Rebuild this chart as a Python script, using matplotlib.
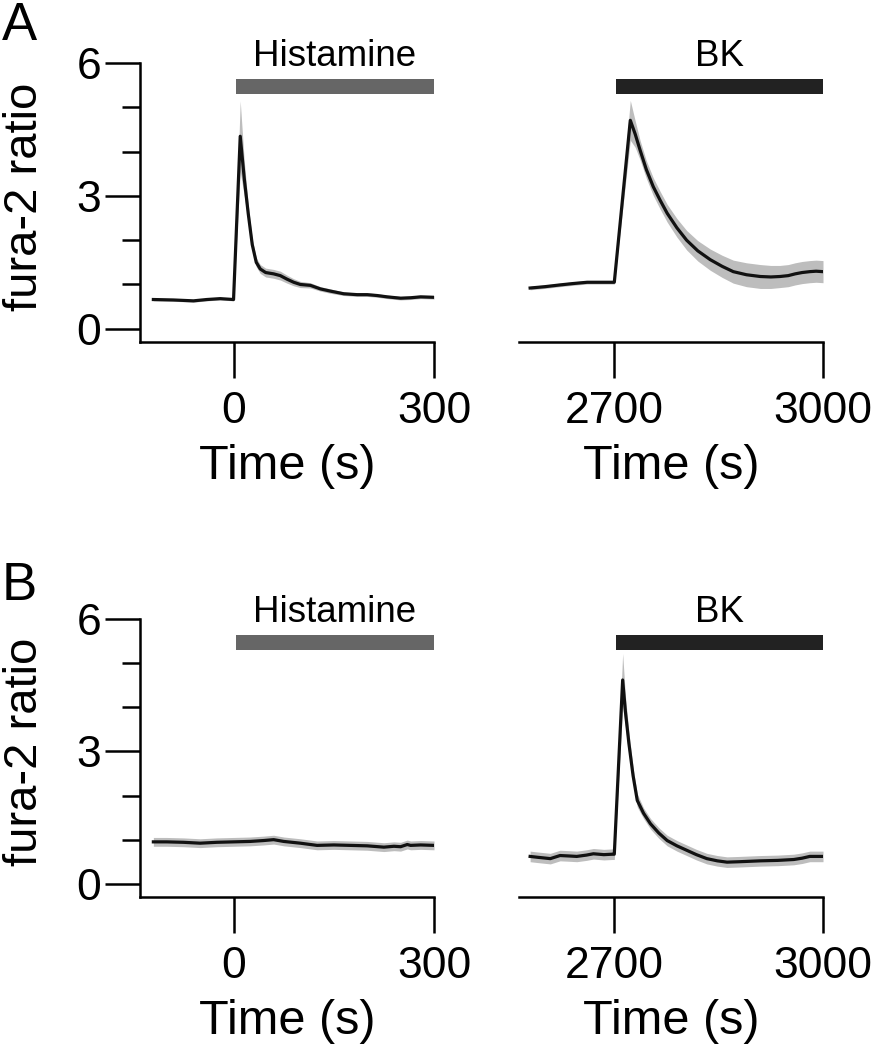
import matplotlib
matplotlib.use("Agg")
import matplotlib.pyplot as plt
import numpy as np

plt.rcParams['font.family'] = ['Liberation Sans', 'DejaVu Sans']

# Panel A, histamine window
hA_t = [-120, -90, -60, -40, -20, 0, 10, 16, 22, 28, 34, 40, 48, 60, 70, 80, 90, 100,
        115, 130, 145, 165, 185, 200, 215, 230, 250, 265, 280, 300]
hA_v = [0.66, 0.65, 0.63, 0.66, 0.68, 0.66, 4.35, 3.4, 2.6, 1.9, 1.5, 1.35, 1.27, 1.24,
        1.2, 1.12, 1.05, 1.0, 0.98, 0.9, 0.85, 0.79, 0.77, 0.77, 0.75, 0.72, 0.69, 0.7, 0.72, 0.71]
hA_sem = [0.03, 0.03, 0.03, 0.03, 0.03, 0.03, 0.8, 0.4, 0.2, 0.12, 0.1, 0.1, 0.1, 0.1,
          0.1, 0.09, 0.08, 0.07, 0.06, 0.05, 0.05, 0.04, 0.04, 0.04, 0.04, 0.04, 0.04, 0.04, 0.04, 0.04]

# Panel A, BK window
bA_t = [2579, 2600, 2622, 2640, 2661, 2680, 2700, 2723, 2730, 2737, 2746, 2756, 2766, 2776,
        2790, 2804, 2820, 2838, 2855, 2871, 2890, 2910, 2925, 2938, 2950, 2960, 2970, 2981, 2990, 3000]
bA_v = [0.92, 0.95, 0.99, 1.02, 1.05, 1.05, 1.05, 4.71, 4.4, 4.04, 3.6, 3.21, 2.9, 2.61,
        2.28, 2.0, 1.76, 1.56, 1.41, 1.29, 1.22, 1.18, 1.17, 1.18, 1.2, 1.24, 1.27, 1.29, 1.3, 1.29]
bA_sem = [0.04, 0.04, 0.04, 0.04, 0.04, 0.04, 0.04, 0.45, 0.3, 0.22, 0.2, 0.2, 0.2, 0.2,
          0.21, 0.22, 0.23, 0.24, 0.25, 0.26, 0.27, 0.27, 0.26, 0.25, 0.25, 0.25, 0.25, 0.25, 0.25, 0.25]

# Panel B, histamine window
hB_t = [-120, -100, -75, -50, -25, 0, 25, 45, 60, 75, 100, 125, 150, 175, 200, 225,
        240, 250, 260, 265, 280, 300]
hB_v = [0.95, 0.95, 0.94, 0.92, 0.94, 0.95, 0.96, 0.98, 1.0, 0.96, 0.92, 0.87, 0.88, 0.87,
        0.86, 0.83, 0.85, 0.84, 0.89, 0.87, 0.88, 0.87]
hB_sem = [0.1] * len(hB_t)

# Panel B, BK window
bB_t = [2579, 2590, 2608, 2622, 2635, 2646, 2660, 2670, 2685, 2697, 2700, 2712, 2716, 2721,
        2727, 2733, 2742, 2752, 2764, 2776, 2790, 2804, 2818, 2833, 2848, 2862, 2880, 2910,
        2935, 2958, 2970, 2981, 3000]
bB_v = [0.62, 0.6, 0.57, 0.64, 0.63, 0.62, 0.65, 0.68, 0.66, 0.67, 0.67, 4.62, 3.9, 3.18,
        2.45, 1.89, 1.6, 1.36, 1.15, 0.98, 0.86, 0.76, 0.66, 0.57, 0.52, 0.49, 0.5, 0.52,
        0.53, 0.55, 0.58, 0.62, 0.62]
bB_sem = [0.12] * 11 + [0.6, 0.35, 0.25, 0.18, 0.15] + [0.12] * 17

# stimulus bars
stim_names = ["Histamine", "BK"]
stim_start = [3, 2702]
stim_end = [300, 3000]
stim_colors = ["#666666", "#222222"]

xlims = [(-140, 300), (2563, 3000)]
xticks = [[0, 300], [2700, 3000]]

fig = plt.figure(figsize=(8.79, 10.5), dpi=100)
W, H = 879, 1050

def make_ax(left_px, width_px, bottom_px, top_px):
    return fig.add_axes([left_px / W, 1 - bottom_px / H, width_px / W, (bottom_px - top_px) / H])

rows = [
    (342, 19, [(hA_t, hA_v, hA_sem), (bA_t, bA_v, bA_sem)], 'A', 40),
    (897, 575, [(hB_t, hB_v, hB_sem), (bB_t, bB_v, bB_sem)], 'B', 600),
]
cols = [(140, 294), (519, 304)]

for bottom_px, top_px, traces, letter, letter_y in rows:
    for j, (t, v, sem) in enumerate(traces):
        ax = make_ax(cols[j][0], cols[j][1], bottom_px, top_px)
        t = np.array(t); v = np.array(v); sem = np.array(sem)
        ax.fill_between(t, v - sem, v + sem, color="#bdbdbd", lw=0)
        ax.plot(t, v, color="#111111", lw=2.3)
        ax.barh(5.47, stim_end[j] - stim_start[j], left=stim_start[j], height=0.35,
                color=stim_colors[j])
        ax.text((stim_start[j] + stim_end[j]) / 2, 5.93, stim_names[j], ha='center',
                va='baseline', fontsize=26.5)
        ax.set_xlim(*xlims[j])
        ax.set_ylim(-0.3, 7)
        ax.spines['top'].set_visible(False)
        ax.spines['right'].set_visible(False)
        ax.spines['bottom'].set_linewidth(1.8)
        ax.spines['left'].set_linewidth(1.8)
        ax.spines['bottom'].set_bounds(xlims[j][0], xlims[j][1])
        ax.set_xticks(xticks[j])
        ax.tick_params(axis='x', length=26, width=1.8, labelsize=32, pad=9)
        ax.set_xlabel("Time (s)", fontsize=35, labelpad=9)
        if j == 0:
            ax.spines['left'].set_bounds(-0.3, 6)
            ax.set_yticks([0, 3, 6])
            ax.set_yticks([1, 2, 4, 5], minor=True)
            ax.tick_params(axis='y', which='major', length=25, width=1.8, labelsize=32, pad=3)
            ax.tick_params(axis='y', which='minor', length=13, width=1.8)
            ax.set_ylabel("fura-2 ratio", fontsize=34)
            ax.yaxis.set_label_coords(-0.318, 0.45)
        else:
            ax.spines['left'].set_visible(False)
            ax.set_yticks([])
    fig.text(2 / W, 1 - letter_y / H, letter, fontsize=38, va='baseline', ha='left')

fig.savefig("out.png", dpi=100)
